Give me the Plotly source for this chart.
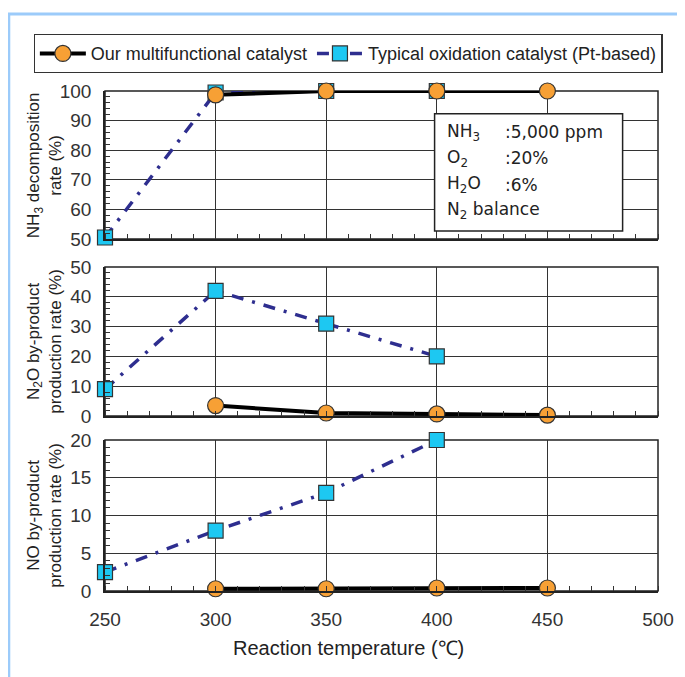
import plotly.graph_objects as go

temps_ours = [300, 350, 400, 450]
temps_pt = [250, 300, 350, 400]

nh3_ours = [98.7, 100, 100, 100]
nh3_pt = [50.5, 99.5, 100, 100]
n2o_ours = [3.5, 1.0, 0.7, 0.3]
n2o_pt = [9, 42, 31, 20]
no_ours = [0.3, 0.3, 0.4, 0.4]
no_pt = [2.5, 8, 13, 20]

x_ticks = [250, 300, 350, 400, 450, 500]
name_ours = "Our multifunctional catalyst"
name_pt = "Typical oxidation catalyst (Pt-based)"
x_title = "Reaction temperature (℃)"

FONT = "Liberation Sans"
BOXFONT = "DejaVu Sans"
ORANGE = "#F7A035"
CYAN = "#1DC8F2"
NAVY = "#2E2E8F"

fig = go.Figure()

panels = [
    (nh3_ours, nh3_pt, "", [50, 100], 10, 2),
    (n2o_ours, n2o_pt, "2", [0, 50], 10, 2),
    (no_ours, no_pt, "3", [0, 20], 5, 1),
]

for i, (ours, pt, ax, rng, dt, mdt) in enumerate(panels):
    fig.add_trace(go.Scatter(
        x=temps_pt, y=pt, mode="lines+markers", name=name_pt,
        xaxis="x" + ax, yaxis="y" + ax, showlegend=(i == 0),
        line=dict(color=NAVY, width=3.5, dash="12px,9px,3px,9px"),
        marker=dict(symbol="square", size=15, color=CYAN, line=dict(color="#333", width=1.2)),
        cliponaxis=False, legendrank=2,
    ))
    fig.add_trace(go.Scatter(
        x=temps_ours, y=ours, mode="lines+markers", name=name_ours,
        xaxis="x" + ax, yaxis="y" + ax, showlegend=(i == 0),
        line=dict(color="black", width=4),
        marker=dict(symbol="circle", size=16, color=ORANGE, line=dict(color="#333", width=1.2)),
        cliponaxis=False, legendrank=1,
    ))

domains = [[0.704, 1.0], [0.35, 0.648], [0.0, 0.302]]
layout = dict(
    width=685, height=677,
    margin=dict(l=97, r=35, t=83, b=94, autoexpand=False),
    paper_bgcolor="white", plot_bgcolor="white",
    font=dict(family=FONT, color="#222"),
    showlegend=True,
    legend=dict(
        orientation="h", x=-0.129, y=1.114, xanchor="left", yanchor="top",
        bordercolor="#333", borderwidth=1.2, font=dict(size=18, family=FONT, color="#222"),
        traceorder="normal", itemwidth=46,
    ),
)
for i, (ours, pt, ax, rng, dt, mdt) in enumerate(panels):
    xa = "xaxis" + ax
    ya = "yaxis" + ax
    layout[xa] = dict(
        range=[250, 500], tickvals=x_ticks, showticklabels=(i == 2),
        showgrid=True, gridcolor="#333", gridwidth=1.3,
        showline=True, linecolor="#222", linewidth=1.5, mirror=False,
        ticks="", anchor="y" + ax, zeroline=False,
        tickfont=dict(size=19, color="#333"), ticklabelstandoff=10,
        minor=dict(dtick=10, tick0=250, ticks="inside", ticklen=5, tickcolor="#333", showgrid=False),
    )
    if i != 0:
        layout[xa]["matches"] = "x"
    layout[ya] = dict(
        range=rng, dtick=dt, domain=domains[i], anchor="x" + ax,
        showgrid=True, gridcolor="#333", gridwidth=1.3,
        showline=True, linecolor="#222", linewidth=1.5, mirror=False,
        ticks="", zeroline=False,
        tickfont=dict(size=19, color="#333"), ticklabelstandoff=8,
        minor=dict(dtick=mdt, ticks="inside", ticklen=5, tickcolor="#333", showgrid=False),
    )
fig.update_layout(**layout)

# x-axis title
fig.add_annotation(text=x_title, xref="paper", yref="paper", x=0.441, y=-0.114,
                   xanchor="center", yanchor="middle", showarrow=False,
                   font=dict(size=20, family=FONT, color="#222"))

# panel borders
for ax in ["", "2", "3"]:
    fig.add_shape(type="rect", xref="x" + ax + " domain", yref="y" + ax + " domain",
                  x0=0, x1=1, y0=0, y1=1, line=dict(color="#222", width=1.5), layer="below")

# y-axis titles
ytitles = [
    ("NH<sub>3</sub> decomposition<br>rate (%)", 0.852),
    ("N<sub>2</sub>O by-product<br>production rate (%)", 0.499),
    ("NO by-product<br>production rate (%)", 0.151),
]
for txt, yc in ytitles:
    fig.add_annotation(text=txt, xref="paper", yref="paper", x=-0.11, y=yc,
                       xanchor="center", yanchor="middle", textangle=-90, showarrow=False,
                       font=dict(size=17, family=FONT, color="#222"), align="center")

# conditions box
fig.add_shape(type="rect", xref="x", yref="y", x0=399, x1=484, y0=52.7, y1=92.3,
              line=dict(color="#222", width=1.5), fillcolor="white", layer="above")
cond_labels = ["NH<sub>3</sub>", "O<sub>2</sub>", "H<sub>2</sub>O", "N<sub>2</sub> balance"]
cond_values = [":5,000 ppm", ":20%", ":6%", ""]
cond_y = [86.0, 77.2, 68.4, 59.6]
for lab, val, yy in zip(cond_labels, cond_values, cond_y):
    fig.add_annotation(text=lab, xref="x", yref="y", x=403.6, y=yy, xanchor="left",
                       yanchor="middle", showarrow=False, font=dict(size=17, family=BOXFONT, color="#222"))
    if val:
        fig.add_annotation(text=val, xref="x", yref="y", x=429.8, y=yy, xanchor="left",
                           yanchor="middle", showarrow=False, font=dict(size=17, family=BOXFONT, color="#222"))

# light blue frame
fig.add_shape(type="line", xref="paper", yref="paper", x0=-0.176, x1=1.1, y0=1.154, y1=1.154,
              line=dict(color="#9CCBFA", width=3))
fig.add_shape(type="line", xref="paper", yref="paper", x0=-0.174, x1=-0.174, y0=1.156, y1=-0.2,
              line=dict(color="#9CCBFA", width=3))

fig.write_html("out.html")
